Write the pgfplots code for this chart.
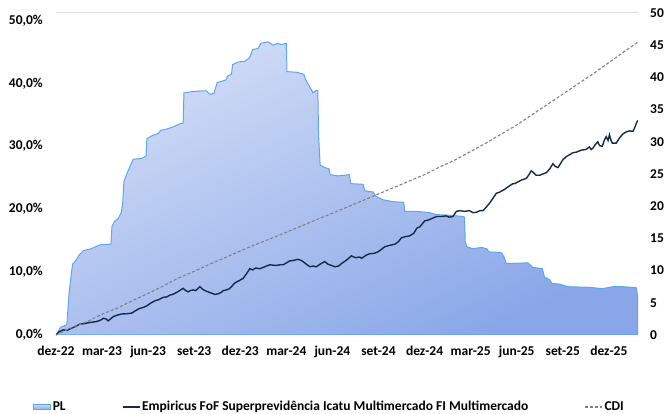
\documentclass[border=0pt]{standalone}
\usepackage{fontspec}
\setmainfont{Carlito}
\usepackage{pgfplots}
\pgfplotsset{compat=1.18}
\definecolor{pledge}{RGB}{94,166,236}
\definecolor{pltop}{RGB}{210,221,246}
\definecolor{plbot}{RGB}{136,166,232}
\definecolor{fundc}{RGB}{22,42,76}
\definecolor{cdic}{RGB}{128,128,128}
\definecolor{gridc}{RGB}{222,222,222}
\newcommand{\lblfont}{\fontsize{13.5}{16}\selectfont\bfseries}

\pgfplotstableread{
m v
0 0
0.3 1.2
0.7 1.6
0.78 4
0.85 6.5
1.0 9.5
1.08 11
1.3 11.6
1.5 12.4
1.78 13.1
2.3 13.4
2.86 14.0
3.58 14.1
3.64 16.8
3.8 17.6
4.05 18.1
4.23 18.9
4.34 20.3
4.42 23.8
4.64 25.2
4.77 25.9
5.03 27.3
5.57 27.4
5.86 27.8
5.92 30.5
6.22 30.9
6.66 31.3
6.83 31.8
7.09 31.9
7.63 32.3
8.07 32.8
8.28 32.9
8.33 37.6
8.93 37.8
9.48 37.9
9.8 37.9
10.0 37.4
10.28 37.5
10.5 39.2
10.78 39.4
11.06 39.6
11.17 40.2
11.43 40.5
11.5 42.0
11.86 42.4
12.3 42.5
12.62 43.1
12.8 44.3
13.16 44.5
13.34 45.3
13.81 45.5
14.14 45.0
14.46 45.3
14.68 45.1
15.0 45.3
15.04 40.9
15.66 40.8
16.14 40.5
16.27 39.6
16.53 38.5
16.74 37.6
16.96 38.0
17.05 37.9
17.1 31
17.2 26.4
17.5 26.0
17.78 25.8
17.85 24.9
18.37 24.7
19.1 24.9
19.2 23.5
20.0 23.4
20.1 22.4
20.65 22.2
20.86 21.5
21.3 21.0
21.95 20.7
22.65 20.6
22.7 19.2
23.5 19.2
24.33 19.0
24.77 18.7
25.6 18.6
26.5 18.4
26.6 18.3
26.65 14.5
26.76 13.7
27.15 13.4
27.7 13.6
28.05 13.4
28.2 12.9
29.0 12.8
29.2 12.0
29.32 11.1
30.73 11.2
31.06 10.5
31.67 10.3
31.81 9.0
32.14 8.6
32.3 8.0
32.8 7.9
33.34 7.5
34.74 7.4
35.6 7.2
36.26 7.5
36.9 7.5
37.78 7.35
37.88 6.0
}\pltable

\pgfplotstableread{
m v
0 0
0.2 0.51
0.48 0.82
0.7 0.72
0.91 0.97
1.24 1.33
1.56 1.74
1.8 1.79
2.1 1.94
2.4 2.05
2.65 2.15
2.9 2.35
3.08 2.66
3.25 2.56
3.4 2.25
3.55 2.56
3.73 2.92
4.0 3.17
4.27 3.34
4.6 3.38
4.92 3.48
5.2 3.89
5.42 4.20
5.7 4.40
5.9 4.61
6.2 5.12
6.44 5.43
6.7 5.63
6.98 5.99
7.2 6.04
7.42 6.35
7.6 6.45
7.85 6.76
8.05 7.06
8.28 7.42
8.45 7.06
8.6 6.86
8.75 7.06
8.93 7.17
9.1 7.06
9.37 7.68
9.55 7.27
9.7 7.06
9.9 6.86
10.13 6.65
10.35 6.45
10.56 6.55
10.75 6.76
10.9 7.06
11.1 7.17
11.3 7.37
11.5 7.88
11.65 8.29
11.9 8.60
12.19 9.01
12.4 9.72
12.62 10.54
12.8 10.34
13.0 10.65
13.27 10.54
13.6 10.85
13.92 11.16
14.3 11.05
14.6 11.16
14.8 11.16
15.0 11.46
15.22 11.77
15.5 11.87
15.76 12.03
15.95 11.87
16.09 11.67
16.3 11.26
16.53 10.85
16.75 10.95
16.96 10.85
17.2 11.26
17.5 11.67
17.7 11.26
17.95 11.05
18.15 10.85
18.4 10.95
18.59 11.36
18.9 11.87
19.24 12.59
19.5 12.28
19.78 12.39
19.9 12.18
20.2 12.69
20.4 12.90
20.75 13.00
20.95 13.20
21.2 13.61
21.4 14.02
21.7 14.23
22.06 14.43
22.3 14.84
22.5 15.46
22.8 15.66
23.03 15.76
23.3 16.17
23.5 16.99
23.7 17.20
24.0 18.12
24.3 18.32
24.77 18.83
25.1 18.83
25.4 18.94
25.6 18.73
25.85 18.83
26.07 19.65
26.3 19.76
26.6 19.65
26.93 19.76
27.15 19.45
27.37 19.50
27.6 19.76
27.8 19.76
28.0 20.27
28.24 20.98
28.45 21.70
28.67 22.52
28.9 22.72
29.2 23.13
29.5 23.65
29.75 24.05
29.87 24.05
30.1 24.36
30.35 24.67
30.62 24.87
30.8 25.49
30.95 26.10
31.1 25.80
31.27 25.39
31.5 25.39
31.7 25.59
31.93 25.80
32.15 26.41
32.36 27.23
32.5 26.82
32.69 26.61
32.85 27.23
33.0 27.84
33.23 28.35
33.45 28.66
33.66 28.97
33.9 29.07
34.2 29.38
34.5 29.48
34.74 29.89
34.85 29.48
34.96 29.68
35.1 30.20
35.28 30.71
35.4 30.09
35.57 29.99
35.7 30.91
35.83 31.53
35.95 30.91
36.04 31.83
36.13 31.02
36.22 30.50
36.48 30.50
36.7 31.32
36.91 31.94
37.1 32.24
37.35 32.45
37.57 32.35
37.7 33.06
37.83 33.88
37.9 34.09
}\fundtable

\pgfplotstableread{
m v
0 0
1 1.15
2 2.10
3 3.32
4 4.28
5 5.48
6 6.62
7 7.82
8 9.08
9 10.12
10 11.24
11 12.28
12 13.36
13 14.38
14 15.35
15 16.33
16 17.35
17 18.37
18 19.35
19 20.37
20 21.39
21 22.42
22 23.44
23 24.46
24 25.49
25 26.72
26 27.84
27 29.17
28 30.50
29 31.94
30 33.37
31 35.01
32 36.65
33 38.28
34 39.92
35 41.56
36 43.30
37 45.04
37.9 46.57
}\cditable

\begin{document}
\begin{tikzpicture}
\useasboundingbox (-56pt,-79pt) rectangle (612pt,335pt);
% right axis: PL
\begin{axis}[
  at={(0pt,0pt)}, anchor=south west,
  scale only axis, width=582pt, height=322pt,
  xmin=0, xmax=37.9, ymin=0, ymax=50,
  axis x line=none, axis y line*=right,
  y axis line style={draw=none},
  major tick length=0pt,
  /pgf/number format/assume math mode=true,
  ytick={0,5,...,50},
  yticklabel style={font=\lblfont, anchor=west, inner sep=0pt, xshift=12pt},
  extra y ticks={50}, extra y tick labels={},
  extra y tick style={grid=major, major grid style={draw=gridc, line width=1pt}},
]
\addplot[draw=pledge, line width=1pt, top color=pltop, bottom color=plbot, shading angle=25] table[x=m,y=v] {\pltable} \closedcycle;
\end{axis}
% left axis: returns
\begin{axis}[
  at={(0pt,0pt)}, anchor=south west,
  scale only axis, width=582pt, height=322pt,
  xmin=0, xmax=37.9, ymin=0, ymax=51.18,
  axis line style={draw=none},
  major tick length=0pt,
  /pgf/number format/assume math mode=true,
  xtick={0,3,...,36},
  xticklabels={dez-22,mar-23,jun-23,set-23,dez-23,mar-24,jun-24,set-24,dez-24,mar-25,jun-25,set-25,dez-25},
  ytick={0,10,...,50},
  yticklabel={\pgfmathprintnumber[fixed,fixed zerofill,precision=1,use comma]{\tick}\%},
  xticklabel style={font=\lblfont, anchor=north, inner sep=0pt, yshift=-11pt},
  yticklabel style={font=\lblfont, anchor=east, inner sep=0pt, xshift=-13pt},
  legend columns=3,
  legend cell align=left,
  legend style={at={(-0.0395,-0.2236)}, anchor=west, draw=none, fill=none,
    inner sep=0pt, font=\lblfont, nodes={inner sep=1.5pt},
    /tikz/every even column/.append style={column sep=55pt}},
]
\addlegendimage{area legend, draw=pledge, line width=1pt, top color=pltop, bottom color=plbot}
\addlegendentry{PL}
\addplot[draw=fundc, line width=1.4pt] table[x=m,y=v] {\fundtable};
\addlegendentry{Empiricus FoF Superprevidência Icatu Multimercado FI Multimercado}
\addplot[draw=cdic, line width=1.1pt, dash pattern=on 3pt off 2pt] table[x=m,y=v] {\cditable};
\addlegendentry{CDI}
\end{axis}
\end{tikzpicture}
\end{document}
